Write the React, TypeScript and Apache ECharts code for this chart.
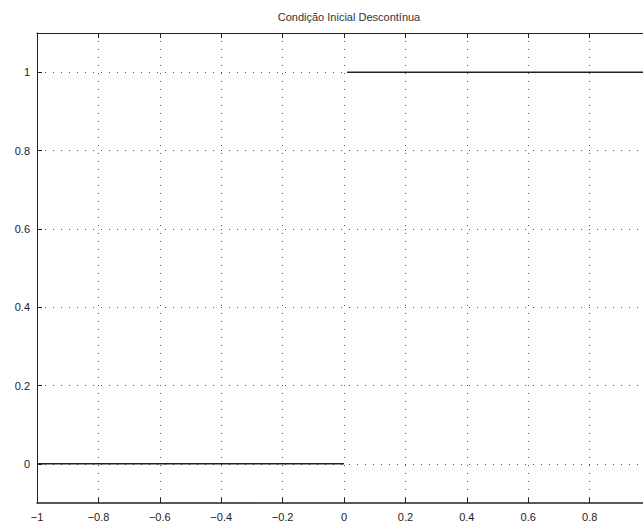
import React, { useEffect, useRef } from "react";
import * as echarts from "echarts";

const titleText = "Condição Inicial Descontínua";
const xTicks = [-1, -0.8, -0.6, -0.4, -0.2, 0, 0.2, 0.4, 0.6, 0.8, 1];
const yTicks = [0, 0.2, 0.4, 0.6, 0.8, 1];
const lowerX = [-1, 0];
const lowerY = [0, 0];
const upperX = [0.01, 1];
const upperY = [1, 1];

const fmt = (v: number) => {
  const s = String(Math.round(v * 10) / 10);
  return s.replace("-", "\u2212");
};

export default function App() {
  const ref = useRef<HTMLDivElement>(null);
  useEffect(() => {
    const chart = echarts.init(ref.current!, null, { renderer: "svg" });
    const axisColor = "#222";
    const font = "Liberation Sans";
    const grid = { type: [1, 7], color: "#555", width: 1 };
    chart.setOption({
      animation: false,
      backgroundColor: "#fff",
      title: {
        text: titleText,
        left: 344,
        top: 6,
        textAlign: "center",
        textStyle: { fontSize: 11, fontWeight: "normal", color: "#333", fontFamily: font },
      },
      grid: { left: 37, top: 33, right: -8, bottom: 27, outerBoundsMode: "none", containLabel: false },
      xAxis: [
        {
          type: "value",
          min: -1,
          max: 1,
          position: "bottom",
          axisLine: { show: true, onZero: false, lineStyle: { color: axisColor, width: 1.5 } },
          axisTick: { show: true, inside: true, length: 5, customValues: xTicks, lineStyle: { color: axisColor } },
          axisLabel: { customValues: xTicks, formatter: fmt, fontSize: 11, color: "#222", fontFamily: font, margin: 8 },
          splitLine: { show: true, lineStyle: grid },
        },
        {
          type: "value",
          min: -1,
          max: 1,
          position: "top",
          axisLine: { show: true, onZero: false, lineStyle: { color: axisColor, width: 1 } },
          axisTick: { show: true, inside: true, length: 5, customValues: xTicks, lineStyle: { color: axisColor } },
          axisLabel: { show: false },
          splitLine: { show: false },
        },
      ],
      yAxis: [
        {
          type: "value",
          min: -0.1,
          max: 1.1,
          position: "left",
          axisLine: { show: true, onZero: false, lineStyle: { color: axisColor, width: 1 } },
          axisTick: { show: true, inside: true, length: 5, customValues: yTicks, lineStyle: { color: axisColor } },
          axisLabel: { customValues: yTicks, formatter: fmt, fontSize: 11, color: "#222", fontFamily: font, margin: 7 },
          splitLine: { show: true, lineStyle: grid },
        },
        {
          type: "value",
          min: -0.1,
          max: 1.1,
          position: "right",
          axisLine: { show: true, onZero: false, lineStyle: { color: axisColor, width: 1 } },
          axisTick: { show: true, inside: true, length: 5, customValues: yTicks, lineStyle: { color: axisColor } },
          axisLabel: { show: false },
          splitLine: { show: false },
        },
      ],
      series: [
        {
          type: "line",
          data: lowerX.map((x, i) => [x, lowerY[i]]),
          showSymbol: false,
          lineStyle: { color: "#222", width: 1.5 },
        },
        {
          type: "line",
          data: upperX.map((x, i) => [x, upperY[i]]),
          showSymbol: false,
          lineStyle: { color: "#222", width: 1.5 },
        },
      ],
    });
    return () => chart.dispose();
  }, []);
  return (
    <div
      ref={ref}
      style={{ position: "absolute", left: 0, top: 0, width: 643, height: 530 }}
    />
  );
}
